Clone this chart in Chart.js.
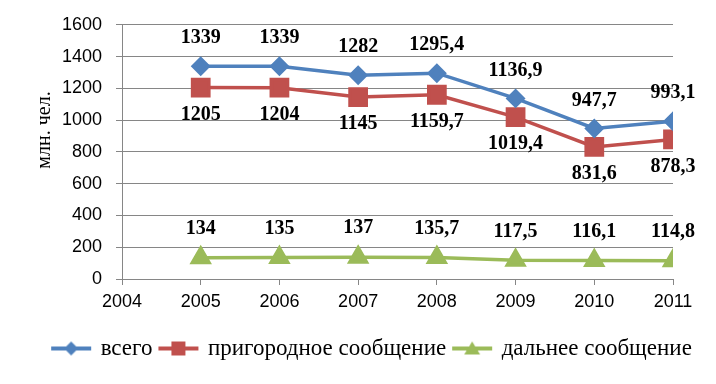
<!DOCTYPE html>
<html>
<head>
<meta charset="utf-8">
<script src="https://cdn.jsdelivr.net/npm/chart.js@4"></script>
<style>
  html, body { margin: 0; padding: 0; background: #fff; }
  #wrap { width: 716px; height: 384px; }
</style>
</head>
<body>
<div id="wrap"><canvas id="chart"></canvas></div>
<script>
const years = [2005, 2006, 2007, 2008, 2009, 2010, 2011];
const total = [1339, 1339, 1282, 1295.4, 1136.9, 947.7, 993.1];
const suburban = [1205, 1204, 1145, 1159.7, 1019.4, 831.6, 878.3];
const longDistance = [134, 135, 137, 135.7, 117.5, 116.1, 114.8];
const seriesNames = ["всего", "пригородное сообщение", "дальнее сообщение"];
const yTitle = "млн. чел.";

const BLUE = "#4F81BD";
const RED = "#C0504D";
const GREEN = "#9BBB59";
const GRID = "#868686";

const toPoints = (vals) => vals.map((v, i) => ({ x: years[i], y: v }));
const fmt = (v) => String(v).replace(".", ",");

// legend symbol: short line with the marker in the middle
const legendIcon = (color, shape) => {
  const c = document.createElement("canvas");
  c.width = 42;
  c.height = 20;
  const g = c.getContext("2d");
  g.strokeStyle = color;
  g.fillStyle = color;
  g.lineWidth = 4;
  g.beginPath();
  g.moveTo(1, 10);
  g.lineTo(41, 10);
  g.stroke();
  g.beginPath();
  if (shape === "diamond") {
    g.moveTo(21, 3); g.lineTo(28, 10); g.lineTo(21, 17); g.lineTo(14, 10);
  } else if (shape === "square") {
    g.rect(14, 3, 14, 14);
  } else {
    g.moveTo(21, 3); g.lineTo(29, 16); g.lineTo(13, 16);
  }
  g.closePath();
  g.fill();
  return c;
};

const icons = [legendIcon(BLUE, "diamond"), legendIcon(RED, "square"), legendIcon(GREEN, "triangle")];
const labelOffsets = [-28, 27, -29];

const valueLabels = {
  id: "valueLabels",
  afterDatasetsDraw(chart) {
    const ctx = chart.ctx;
    ctx.save();
    ctx.font = "bold 20px 'Liberation Serif'";
    ctx.fillStyle = "#000";
    ctx.textAlign = "center";
    ctx.textBaseline = "middle";
    chart.data.datasets.forEach((ds, di) => {
      chart.getDatasetMeta(di).data.forEach((pt, i) => {
        ctx.fillText(fmt(ds.data[i].y), pt.x, pt.y + labelOffsets[di]);
      });
    });
    ctx.restore();
  },
};

const axisTitle = {
  id: "axisTitle",
  afterDraw(chart) {
    const ctx = chart.ctx;
    ctx.save();
    ctx.translate(45, 130);
    ctx.rotate(-Math.PI / 2);
    ctx.font = "20px 'Liberation Serif'";
    ctx.fillStyle = "#000";
    ctx.textAlign = "center";
    ctx.textBaseline = "middle";
    ctx.fillText(yTitle, 0, 0);
    ctx.restore();
  },
};

// the legend sits a bit right of the plot centre in the original
const legendShift = {
  id: "legendShift",
  afterLayout(chart) {
    chart.legend.left += 36;
    chart.legend.right += 36;
  },
};

const ctx = document.getElementById("chart").getContext("2d");

new Chart(ctx, {
  type: "line",
  data: {
    datasets: [
      {
        label: seriesNames[0],
        data: toPoints(total),
        borderColor: BLUE,
        backgroundColor: BLUE,
        borderWidth: 3.5,
        pointStyle: "rectRot",
        pointRadius: 7.5,
        pointHoverRadius: 7.5,
      },
      {
        label: seriesNames[1],
        data: toPoints(suburban),
        borderColor: RED,
        backgroundColor: RED,
        borderWidth: 3.5,
        pointStyle: "rect",
        pointRadius: 11.5,
        pointHoverRadius: 11.5,
      },
      {
        label: seriesNames[2],
        data: toPoints(longDistance),
        borderColor: GREEN,
        backgroundColor: GREEN,
        borderWidth: 3.5,
        pointStyle: "triangle",
        pointRadius: 9.5,
        pointHoverRadius: 9.5,
      },
    ],
  },
  options: {
    responsive: true,
    maintainAspectRatio: false,
    animation: false,
    layout: {
      padding: { left: 0, right: 43, top: 16, bottom: 14 },
    },
    scales: {
      x: {
        type: "linear",
        min: 2004,
        max: 2011,
        afterFit: (scale) => {
          scale.height = 50;
        },
        ticks: {
          stepSize: 1,
          padding: 6,
          color: "#000",
          font: { family: "'Liberation Sans'", size: 18 },
          callback: (v) => String(v),
        },
        grid: {
          drawOnChartArea: false,
          drawTicks: true,
          tickLength: 6,
          color: GRID,
        },
        border: { color: GRID },
      },
      y: {
        min: 0,
        max: 1600,
        afterFit: (scale) => {
          scale.width = 122;
        },
        ticks: {
          stepSize: 200,
          padding: 14,
          color: "#000",
          font: { family: "'Liberation Sans'", size: 18 },
          callback: (v) => String(v),
        },
        grid: {
          color: GRID,
          tickLength: 6,
        },
        border: { color: GRID },
      },
    },
    plugins: {
      legend: {
        position: "bottom",
        labels: {
          usePointStyle: true,
          pointStyleWidth: 36,
          padding: 8,
          color: "#000",
          font: { family: "'Liberation Serif'", size: 23 },
          generateLabels: (chart) =>
            chart.data.datasets.map((ds, i) => ({
              text: ds.label,
              pointStyle: icons[i],
              fillStyle: ds.borderColor,
              strokeStyle: ds.borderColor,
              lineWidth: 0,
              datasetIndex: i,
              hidden: false,
            })),
        },
      },
      tooltip: { enabled: false },
    },
  },
  plugins: [valueLabels, axisTitle, legendShift],
});
</script>
</body>
</html>
